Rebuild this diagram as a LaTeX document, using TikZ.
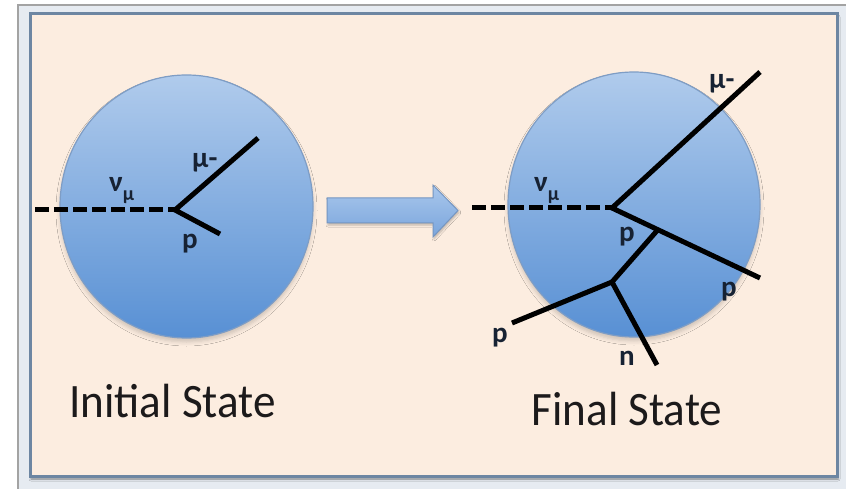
\documentclass[tikz,border=0pt]{standalone}
\usepackage{fontspec}
\setmainfont{Carlito}
\usetikzlibrary{shapes.geometric,shadows.blur,calc}
\definecolor{panelfill}{HTML}{FCEDE0}
\definecolor{panelline}{HTML}{6D86A2}
\definecolor{framegap}{HTML}{E6EBF1}
\definecolor{framegray}{HTML}{A3A3A3}
\definecolor{balltop}{HTML}{B0CBEC}
\definecolor{ballbot}{HTML}{5890D4}
\definecolor{ballline}{HTML}{7E9DC5}
\definecolor{arrowtop}{HTML}{A9C7EC}
\definecolor{arrowbot}{HTML}{7AA5DC}
\definecolor{arrowline}{HTML}{7596C2}
\definecolor{labelc}{HTML}{172233}
\definecolor{titlec}{HTML}{1C1A1B}
\tikzset{
  nucleus/.style={ellipse, draw=ballline, line width=1.2pt,
    top color=balltop, bottom color=ballbot, inner sep=0pt,
    blur shadow={shadow xshift=0pt, shadow yshift=-4pt,
      shadow blur radius=4pt, shadow opacity=18}},
  track/.style={line width=5pt, draw=black},
  nutrack/.style={line width=5pt, draw=black, dash pattern=on 14pt off 5pt},
  lbl/.style={font=\fontsize{29}{30}\selectfont\bfseries, text=labelc,
    inner sep=0pt, anchor=base west},
  title/.style={font=\fontsize{48}{52}\selectfont, text=titlec,
    inner sep=0pt, anchor=base, xscale=0.94},
  subsc/.style={font=\fontsize{20}{20}\selectfont\bfseries},
}
\newcommand{\numu}{ν\raisebox{-9pt}{\fontsize{20}{20}\selectfont μ}}
\begin{document}
\begin{tikzpicture}[x=1pt,y=-1pt]
\useasboundingbox (0,0) rectangle (846,489);
% outer window frame
\fill[white] (0,0) rectangle (846,489);
\fill[framegap] (18,5) rectangle (846,489);
\draw[framegray, line width=2pt] (18,489) -- (18,5) -- (846,5);
% peach panel
\fill[panelfill, blur shadow={shadow xshift=1pt, shadow yshift=-3pt,
  shadow blur radius=2pt, shadow opacity=45}] (30,14) rectangle (837,476);
\draw[panelline, line width=3pt] (30,14) rectangle (837,476);

% ---------- initial state ----------
\node[nucleus, minimum width=253pt, minimum height=263pt] (nucA) at (186.5,206.5) {};
\coordinate (inA) at (35,210);
\coordinate (vA) at (175,210);
\coordinate (muA) at (258,138);
\coordinate (pA) at (220,234);
\draw[nutrack] (inA) -- (vA);
\draw[track, line join=miter] (muA) -- (vA) -- (pA);
\node[lbl] (lmuA) at (192,168) {μ-};
\node[lbl] (lnuA) at (109,192) {\numu};
\node[lbl] (lpA) at (182,248) {p};
\node[title] (tA) at (172.5,417) {Initial State};

% ---------- transition arrow ----------
\coordinate (arA) at (327,198);
\draw[arrowline, line width=1pt, top color=arrowtop, bottom color=arrowbot,
  blur shadow={shadow xshift=1pt, shadow yshift=-2pt, shadow blur radius=2pt, shadow opacity=25}]
  (arA) -- (433,198) -- (433,185) -- (458,210.5) -- (433,237) -- (433,223) -- (327,223) -- cycle;

% ---------- final state ----------
\node[nucleus, minimum width=252pt, minimum height=265pt] (nucB) at (634,204.5) {};
\coordinate (inB) at (472,208);
\coordinate (vB) at (612,208);
\coordinate (muB) at (760,72);
\coordinate (pB) at (760,278);
\coordinate (jB) at ($(vB)!0.31!(pB)$);
\coordinate (kB) at (612,282);
\coordinate (pC) at (512,323);
\coordinate (nB) at (657,365);
\draw[nutrack] (inB) -- (vB);
\draw[track, line join=miter] (muB) -- (vB) -- (pB);
\draw[track] (jB) -- (kB);
\draw[track] (pC) -- (kB) -- (nB);
\node[lbl] (lmuB) at (709,89) {μ-};
\node[lbl] (lnuB) at (534,192) {\numu};
\node[lbl] (lpB) at (619,241) {p};
\node[lbl] (lpB2) at (721,296) {p};
\node[lbl] (lpC) at (492,342) {p};
\node[lbl] (lnB) at (619,365) {n};
\node[title] (tB) at (627,425) {Final State};
\end{tikzpicture}
\end{document}
